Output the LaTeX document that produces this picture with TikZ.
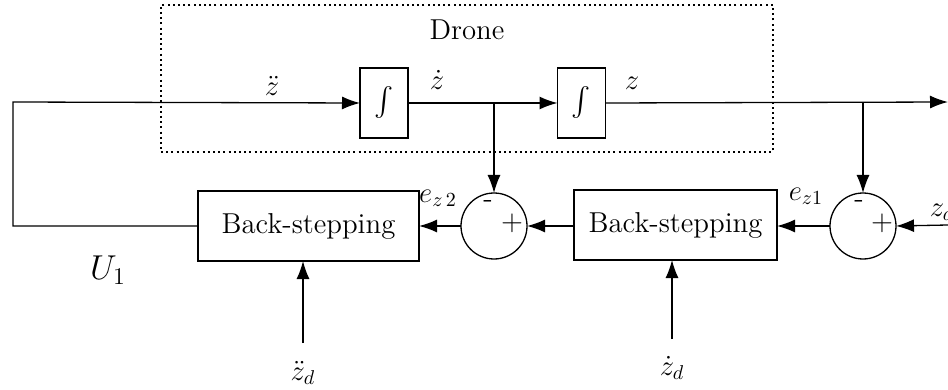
\documentclass[tikz,border=0pt]{standalone}
\usepackage{amsmath}
\usetikzlibrary{arrows.meta}
\begin{document}
\begin{tikzpicture}[x=0.5pt, y=-0.5pt,
    block/.style={rectangle, draw, line width=0.65pt, minimum height=35pt, inner sep=0pt, outer sep=0pt, font=\Large},
    integ/.style={block, minimum width=24pt, font=\Large},
    sum/.style={circle, draw, line width=0.65pt, minimum size=33pt, inner sep=0pt, outer sep=0pt},
    arrow/.style={-{Latex[length=9pt, width=6.5pt]}, line width=0.65pt},
    lbl/.style={font=\Large, inner sep=1pt}
]
    \useasboundingbox (0,0) rectangle (948,390);

    % Drone: dotted frame and the two integrators
    \node[draw, line width=0.65pt, dash pattern=on 1pt off 1.6pt, minimum width=306pt, minimum height=73.5pt, inner sep=0pt] (drone) at (467,78.5) {};
    \node[lbl] (dronename) at (467,30) {Drone};
    \node[integ] (int1) at (384,103) {$\int$};
    \node[integ] (int2) at (581.5,103) {$\int$};

    % Controllers and comparators
    \node[block, minimum width=110.5pt] (bs1) at (308.5,226) {Back-stepping};
    \node[block, minimum width=101.5pt] (bs2) at (675.5,225) {Back-stepping};
    \node[sum] (sum1) at (494,226) {};
    \node[sum] (sum2) at (863,226) {};
    \node[font=\Large, inner sep=0pt] (m1) at (488,204) {-};
    \node[font=\Large, inner sep=0pt] (p1) at (512,223) {+};
    \node[font=\Large, inner sep=0pt] (m2) at (859,204) {-};
    \node[font=\Large, inner sep=0pt] (p2) at (882,223) {+};

    % Free ends
    \coordinate (corner) at (13,102);
    \coordinate (out) at (948,102);
    \coordinate (zdin) at (948,225);
    \coordinate (ddin) at (303,343);
    \coordinate (din) at (672,339);

    % Forward path
    \draw[arrow] (bs1.west |- sum1) -| (corner) -- (int1.west);
    \draw[arrow] (int1.east) -- (int2.west);
    \draw[arrow] (int2.east) -- (out);

    % Feedback taps
    \draw[arrow] (sum1 |- int1) -- (sum1.north);
    \draw[arrow] (sum2 |- int2) -- (sum2.north);

    % Error chain
    \draw[arrow] (zdin) -- (sum2.east);
    \draw[arrow] (sum2.west) -- (bs2.east |- sum2);
    \draw[arrow] (bs2.west |- sum1) -- (sum1.east);
    \draw[arrow] (sum1.west) -- (bs1.east |- sum1);

    % Reference inputs
    \draw[arrow] (ddin) -- (bs1.south -| ddin);
    \draw[arrow] (din) -- (bs2.south -| din);

    % Signal labels
    \node[lbl] (lzdd) at (272,86) {$\ddot{z}$};
    \node[lbl] (lzd) at (437,80) {$\dot{z}$};
    \node[lbl] (lz) at (632,83) {$z$};
    \node[lbl] (lez2) at (438,198) {$e_{z\,2}$};
    \node[lbl] (lez1) at (806,196) {$e_{z1}$};
    \node[font=\LARGE, inner sep=1pt] (lu1) at (108,270) {$U_{1}$};
    \node[lbl] (lzdref) at (942,212) {$z_d$};
    \node[lbl] (lzddref) at (303,373) {$\ddot{z}_d$};
    \node[lbl] (lzdotref) at (672,368) {$\dot{z}_d$};
\end{tikzpicture}
\end{document}
